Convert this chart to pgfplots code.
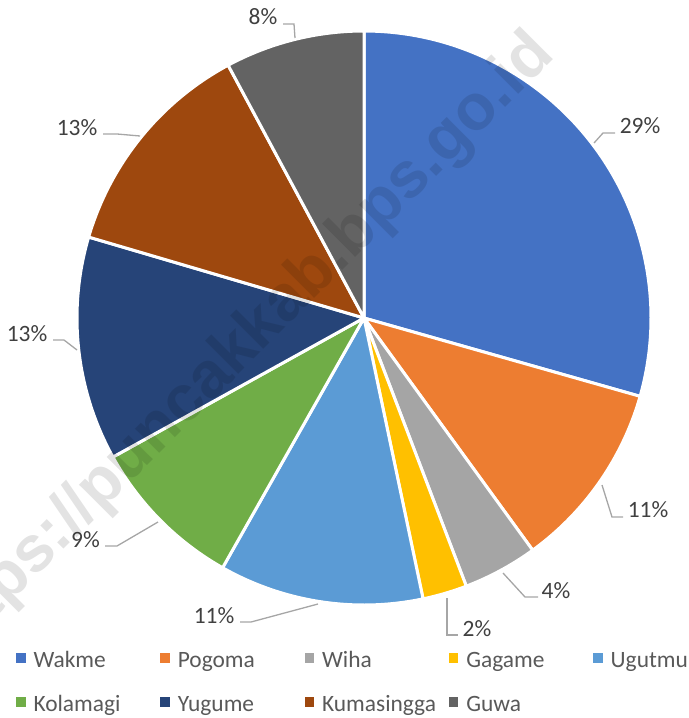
\documentclass[border=0pt]{standalone}
\usepackage{pgfplots}
\usepackage{pgfplotstable}
\pgfplotsset{compat=1.18}
\usepackage{fontspec}
\setmainfont{Carlito}
\newfontfamily\wmfont{Liberation Sans}

\definecolor{pc0}{HTML}{4472C4}
\definecolor{pc1}{HTML}{ED7D31}
\definecolor{pc2}{HTML}{A5A5A5}
\definecolor{pc3}{HTML}{FFC000}
\definecolor{pc4}{HTML}{5B9BD5}
\definecolor{pc5}{HTML}{70AD47}
\definecolor{pc6}{HTML}{264478}
\definecolor{pc7}{HTML}{9E480E}
\definecolor{pc8}{HTML}{636363}
\definecolor{lbltext}{HTML}{404040}
\definecolor{legtext}{HTML}{595959}
\definecolor{leader}{HTML}{A6A6A6}

\pgfplotstableread{
name value
Wakme 29.4
Pogoma 10.6
Wiha 4.2
Gagame 2.5
Ugutmu 11.5
Kolamagi 8.75
Yugume 12.6
Kumasingga 12.6
Guwa 7.85
}\piedata

\newcommand{\legtxt}[1]{\makebox[134.8bp][l]{\hspace{8bp}\strut #1}}

\begin{document}
\begin{tikzpicture}
\useasboundingbox (0,0) rectangle (689bp,718bp);
\gdef\cum{0}
\foreach \i in {0,...,8}{%
  \pgfplotstablegetelem{\i}{value}\of\piedata
  \pgfmathsetmacro\s{90-3.6*\cum}%
  \pgfmathsetmacro\c{\cum+\pgfplotsretval}%
  \pgfmathsetmacro\e{90-3.6*\c}%
  \expandafter\xdef\csname pieS\i\endcsname{\s}%
  \expandafter\xdef\csname pieE\i\endcsname{\e}%
  \xdef\cum{\c}%
}
\begin{axis}[
  at={(0,0)}, anchor=south west,
  scale only axis, width=689bp, height=718bp,
  xmin=0, xmax=689, ymin=0, ymax=718, y dir=reverse,
  hide axis, clip=true,
  legend image code/.code={\fill[#1,draw=none] (0bp,-4.75bp) rectangle (9.5bp,4.75bp);},
  legend columns=5,
  legend cell align=left,
  legend style={at={(axis cs:16,647.5)}, anchor=north west, draw=none, fill=none,
    inner sep=0pt, outer sep=0pt, column sep=0pt, row sep=23bp,
    nodes={inner sep=0pt, outer sep=0pt},
    font=\fontsize{23.5}{28}\selectfont, text=legtext},
]
\pgfplotsinvokeforeach{0,...,8}{%
  \edef\tmp{\noexpand\addplot[fill=pc#1, draw=white, line width=3bp, line join=round,
    domain=\csname pieE#1\endcsname:\csname pieS#1\endcsname, samples=120]
    ({364+287*cos(x)},{318-287*sin(x)}) -- (axis cs:364,318) -- cycle;}%
  \tmp
}
\legend{\legtxt{Wakme},\legtxt{Pogoma},\legtxt{Wiha},\legtxt{Gagame},\legtxt{Ugutmu},\legtxt{Kolamagi},\legtxt{Yugume},\legtxt{Kumasingga},\legtxt{Guwa}}

\tikzset{lbl/.style={anchor=base, text=lbltext, inner sep=0pt, font=\fontsize{23.5}{28}\selectfont},
         ld/.style={draw=leader, line width=1.3bp}}
% leader lines
\draw[ld] (axis cs:594,143) -- (axis cs:603,133) -- (axis cs:615,133);
\draw[ld] (axis cs:602,485) -- (axis cs:612,517) -- (axis cs:623,517);
\draw[ld] (axis cs:503,573) -- (axis cs:525,597) -- (axis cs:538,597);
\draw[ld] (axis cs:447,598) -- (axis cs:447,635) -- (axis cs:458,635);
\draw[ld] (axis cs:318,604) -- (axis cs:251,622) -- (axis cs:240,622);
\draw[ld] (axis cs:158,522) -- (axis cs:117,546) -- (axis cs:105,546);
\draw[ld] (axis cs:77,350) -- (axis cs:64,340) -- (axis cs:53,340);
\draw[ld] (axis cs:140,136) -- (axis cs:117,134) -- (axis cs:103,134);
\draw[ld] (axis cs:295,38) -- (axis cs:294,24) -- (axis cs:283,24);
% labels
\node[lbl] at (axis cs:640,133) {29\%};
\node[lbl] at (axis cs:648,517) {11\%};
\node[lbl] at (axis cs:556,598) {4\%};
\node[lbl] at (axis cs:477,636) {2\%};
\node[lbl] at (axis cs:214,623) {11\%};
\node[lbl] at (axis cs:85.5,547) {9\%};
\node[lbl] at (axis cs:27,341) {13\%};
\node[lbl] at (axis cs:77,135) {13\%};
\node[lbl] at (axis cs:263,25) {8\%};
% watermark
\node[rotate=45, anchor=base, text=black, text opacity=0.11, inner sep=0pt,
      font=\wmfont\bfseries\fontsize{65}{65}\selectfont] at (axis cs:252,361) {https://puncakkab.bps.go.id};
\end{axis}
\end{tikzpicture}
\end{document}
